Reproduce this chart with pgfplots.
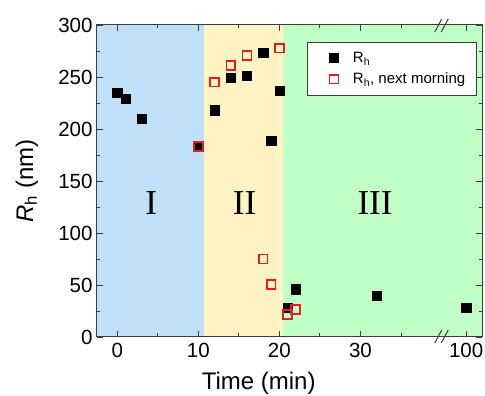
\documentclass[border=0pt]{standalone}
\usepackage{fontspec}
\setmainfont{Liberation Sans}
\newfontfamily\timesfont{Liberation Serif}
\usepackage{pgfplots}
\pgfplotsset{compat=1.18}
\definecolor{regblue}{RGB}{192,224,250}
\definecolor{regyellow}{RGB}{255,242,195}
\definecolor{reggreen}{RGB}{192,255,198}
\definecolor{mred}{RGB}{228,30,30}
\definecolor{axgray}{RGB}{60,60,60}
\pgfplotsset{mylegend/.style={legend image code/.code={\draw[mark repeat=2,mark phase=2,##1,draw=none] plot coordinates {(0pt,0pt) (18pt,0pt) (32pt,0pt)};}}}
\begin{document}
\begin{tikzpicture}
\begin{axis}[
  name=ax,
  scale only axis,
  width=385pt, height=312pt,
  xmin=-2.5, xmax=45, ymin=0, ymax=300,
  xtick={0,10,20,30,43.05},
  xticklabels={0,10,20,30,100},
  minor xtick={5,15,25,35},
  ytick={0,50,100,150,200,250,300},
  minor ytick={25,75,125,175,225,275},
  tick align=inside,
  major tick length=6pt,
  minor tick length=3.5pt,
  every tick/.style={axgray, line width=0.9pt},
  axis line style={axgray, line width=1pt},
  axis on top=true,
  /pgf/number format/assume math mode=true,
  tick label style={font=\fontsize{20.5}{20.5}\selectfont},
  xticklabel style={yshift=-3pt},
  yticklabel style={xshift=-1pt},
  xlabel={Time (min)},
  ylabel={\textit{R}\textsubscript{h} (nm)},
  label style={font=\fontsize{24}{24}\selectfont},
  xlabel style={at={(axis description cs:0.42,-0.148)}, anchor=center},
  ylabel style={at={(axis description cs:-0.182,0.5)}, anchor=center},
  legend style={at={(rel axis cs:0.986,0.946)}, anchor=north east,
    font=\fontsize{15}{15}\selectfont, draw=axgray, line width=0.8pt,
    row sep=5pt, column sep=3pt, inner xsep=9pt, inner ysep=8pt},
  legend cell align=left,
  after end axis/.code={
    \foreach \xx in {39.6,40.4}{
      \draw[axgray, line width=1pt] ([shift={(-3.5pt,-7pt)}]axis cs:\xx,300) -- ([shift={(3.5pt,6pt)}]axis cs:\xx,300);
      \draw[axgray, line width=1pt] ([shift={(-3.5pt,-6pt)}]axis cs:\xx,0) -- ([shift={(3.5pt,7pt)}]axis cs:\xx,0);
    }
  },
]
\fill[regblue] (axis cs:-2.5,0) rectangle (axis cs:10.74,300);
\fill[regyellow] (axis cs:10.74,0) rectangle (axis cs:20.5,300);
\fill[reggreen] (axis cs:20.5,0) rectangle (axis cs:45,300);
\node[font=\timesfont\fontsize{35}{35}\selectfont] at (axis cs:4.2,129) {I};
\node[font=\timesfont\fontsize{35}{35}\selectfont] at (axis cs:15.7,129) {II};
\node[font=\timesfont\fontsize{35}{35}\selectfont] at (axis cs:31.8,129) {III};
\addplot[draw=none, mylegend, mark=square*, mark size=4.6pt, mark options={fill=black, draw=black}] coordinates {
  (0,235) (1,229) (3,210) (10,183) (12,218) (14,249) (16,251) (18,273)
  (19,189) (20,237) (21,28) (22,46) (32,40) (43.05,28)
};
\addlegendentry{R\textsubscript{h}}
\addplot[draw=none, mylegend, mark=square, mark size=4.4pt, mark options={draw=mred, fill=none, line width=1.6pt}] coordinates {
  (10,183) (12,245) (14,261) (16,270.5) (20,277.6) (18,75) (19,50.6) (21,21.5) (22,26.6)
};
\addlegendentry{R\textsubscript{h}, next morning}
\end{axis}
\pgfresetboundingbox
\path[use as bounding box] ([shift={(-97pt,-59pt)}]ax.south west) rectangle ([shift={(3pt,25pt)}]ax.north east);
\end{tikzpicture}
\end{document}
